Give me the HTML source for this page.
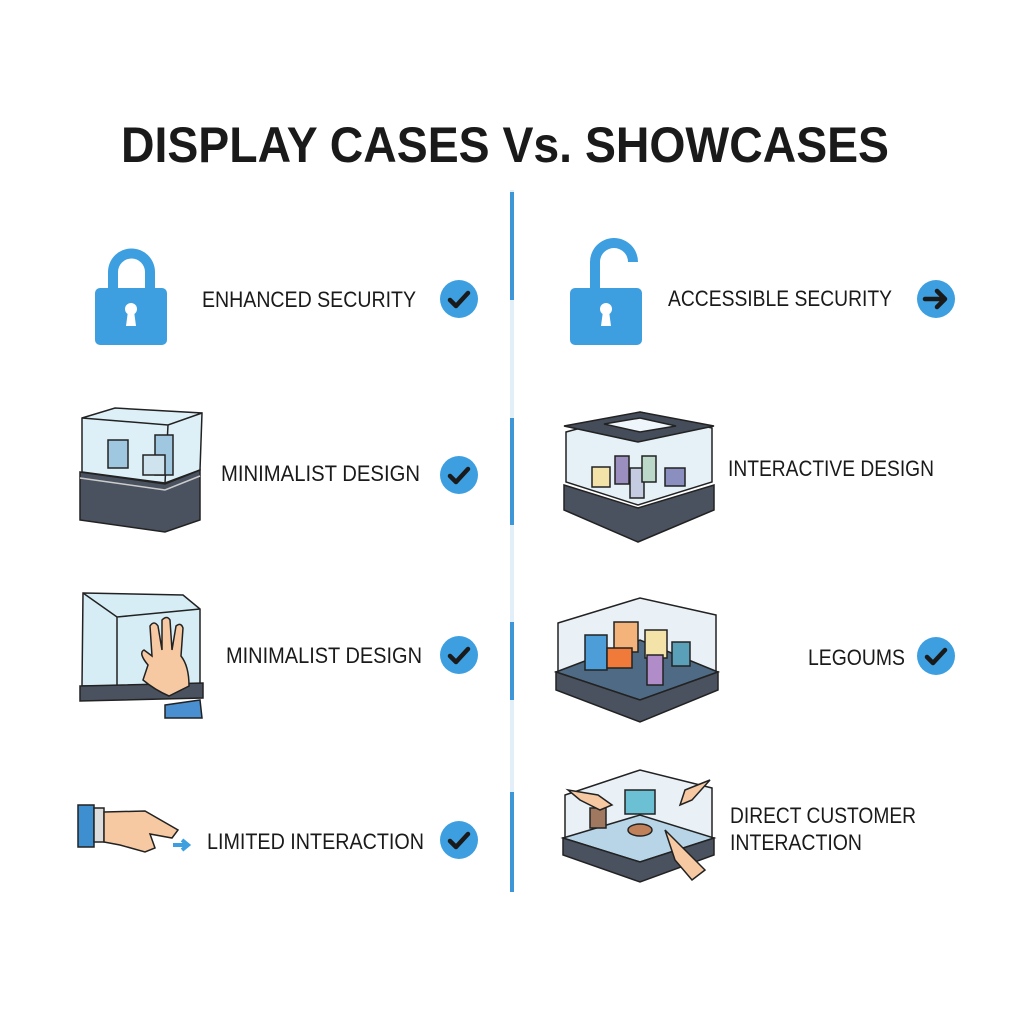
<!DOCTYPE html>
<html><head><meta charset="utf-8"><style>
html,body{margin:0;padding:0;background:#fff;}
svg{display:block;}
text{font-family:"Liberation Sans",sans-serif;fill:#1a1a1a;}
</style></head><body>
<svg width="1024" height="1024" viewBox="0 0 1024 1024" xmlns="http://www.w3.org/2000/svg">
<rect width="1024" height="1024" fill="#fff"/>
<!-- Title -->
<text x="505" y="162" font-size="50" font-weight="bold" text-anchor="middle" textLength="768" lengthAdjust="spacingAndGlyphs" fill="#1b1b1b">DISPLAY CASES Vs. SHOWCASES</text>
<!-- Divider -->
<line x1="512" y1="190" x2="512" y2="892" stroke="#e3eff8" stroke-width="4"/>
<g stroke="#3d97d6" stroke-width="4">
<line x1="512" y1="192" x2="512" y2="300"/>
<line x1="512" y1="418" x2="512" y2="525"/>
<line x1="512" y1="622" x2="512" y2="700"/>
<line x1="512" y1="792" x2="512" y2="892"/>
</g>
<!-- Locks -->
<g fill="#3d9fe0">
<path d="M108 290 V272 a23.5 23.5 0 0 1 47 0 V290 h-10 V272 a13.5 13.5 0 0 0 -27 0 V290z"/>
<rect x="95" y="288" width="72" height="57" rx="5"/>
<path d="M590 290 V262 a24 24 0 0 1 48 0 h-10 a14 14 0 0 0 -28 0 V290z"/>
<rect x="570" y="288" width="72" height="57" rx="5"/>
</g>
<g fill="#fff">
<circle cx="131" cy="309" r="6"/><path d="M128 311 h6 l2 15 h-10z"/>
<circle cx="606" cy="309" r="6"/><path d="M603 311 h6 l2 15 h-10z"/>
</g>
<!-- Labels -->
<g font-size="22">
<text x="202" y="307" textLength="214" lengthAdjust="spacingAndGlyphs">ENHANCED SECURITY</text>
<text x="221" y="481" textLength="199" lengthAdjust="spacingAndGlyphs">MINIMALIST DESIGN</text>
<text x="226" y="663" textLength="196" lengthAdjust="spacingAndGlyphs">MINIMALIST DESIGN</text>
<text x="207" y="849" textLength="217" lengthAdjust="spacingAndGlyphs">LIMITED INTERACTION</text>
<text x="668" y="306" textLength="224" lengthAdjust="spacingAndGlyphs">ACCESSIBLE SECURITY</text>
<text x="728" y="476" textLength="206" lengthAdjust="spacingAndGlyphs">INTERACTIVE DESIGN</text>
<text x="808" y="665" textLength="97" lengthAdjust="spacingAndGlyphs">LEGOUMS</text>
<text x="730" y="823" textLength="186" lengthAdjust="spacingAndGlyphs">DIRECT CUSTOMER</text>
<text x="730" y="850" textLength="132" lengthAdjust="spacingAndGlyphs">INTERACTION</text>
</g>
<!-- Check circles -->
<g fill="#3d9fe0">
<circle cx="459" cy="299" r="19"/><circle cx="459" cy="475" r="19"/>
<circle cx="459" cy="655" r="19"/><circle cx="459" cy="840" r="19"/>
<circle cx="936" cy="299" r="19"/><circle cx="936" cy="656" r="19"/>
</g>
<g fill="none" stroke="#1a1a1a" stroke-width="4.5" stroke-linecap="round" stroke-linejoin="round">
<path d="M450 300 l6 6 l12 -13"/><path d="M450 476 l6 6 l12 -13"/>
<path d="M450 656 l6 6 l12 -13"/><path d="M450 841 l6 6 l12 -13"/>
<path d="M927 657 l6 6 l12 -13"/>
<path d="M925 299 h20 M937 291 l8 8 l-8 8"/>
</g>
<!-- Left case 1 -->
<g stroke="#222" stroke-width="1.5">
<path d="M82 418 L115 408 L202 413 L200 470 L165 483 L82 472z" fill="#d6ecf5" fill-opacity="0.8"/>
<path d="M82 418 L168 425 L202 413 M168 425 L165 483" fill="none"/>
<path d="M80 472 L165 484 L200 470 L200 520 L165 532 L80 520z" fill="#4a5260"/>
<path d="M80 478 L165 490 L200 476" fill="none" stroke="#ccc"/>
<rect x="108" y="440" width="20" height="28" fill="#9fc7e0"/>
<rect x="155" y="435" width="18" height="40" fill="#9fc7e0"/>
<rect x="143" y="455" width="22" height="20" fill="#cfe3ee"/>
</g>
<!-- Left case 2 -->
<g stroke="#222" stroke-width="1.5">
<path d="M83 593 L183 595 L200 609 L200 685 L82 686z" fill="#d3ebf4" fill-opacity="0.9"/>
<path d="M83 593 L117 617 L200 609 M117 617 L117 685" fill="none"/>
<path d="M80 686 L203 683 L203 698 L80 701z" fill="#4a5260"/>
<path d="M148 665 q-10 -12 -4 -15 l8 6 l-2 -30 q4 -6 8 0 l4 24 l0 -30 q5 -5 8 0 l2 30 l4 -24 q5 -4 7 2 l-2 28 q8 10 8 30 l-20 10 q-14 -6 -26 -16z" fill="#f6c9a3"/>
<path d="M165 705 L200 700 L202 718 L165 718z" fill="#4a8fd0"/>
</g>
<!-- Left hand -->
<g stroke="#222" stroke-width="1.5">
<rect x="78" y="805" width="16" height="42" fill="#3d8fd0"/>
<rect x="94" y="808" width="10" height="34" fill="#ddd"/>
<path d="M104 812 L145 811 L178 830 L172 838 L150 834 L155 848 L145 852 L120 845 L104 842z" fill="#f6c9a3"/>
</g>
<path d="M173 845 h14 M182 840 l6 5 l-6 5" stroke="#3d9fe0" stroke-width="4" fill="none"/>
<!-- Right case 1 -->
<g stroke="#222" stroke-width="1.5">
<path d="M566 432 L640 412 L712 428 L712 482 L638 505 L566 482z" fill="#e6f1f7"/>
<path d="M564 426 L640 412 L714 426 L638 442z" fill="#454d5a"/>
<path d="M604 424 L640 418 L676 426 L640 432z" fill="#eef6fb"/>
<path d="M564 485 L638 508 L714 485 L714 510 L638 542 L564 510z" fill="#4a5260"/>
<rect x="592" y="467" width="18" height="20" fill="#f3e3a8"/>
<rect x="615" y="456" width="14" height="28" fill="#9a8fbf"/>
<rect x="630" y="468" width="14" height="30" fill="#c5cbe0"/>
<rect x="642" y="456" width="14" height="26" fill="#bcd8c8"/>
<rect x="665" y="468" width="20" height="18" fill="#8b8fbf"/>
</g>
<!-- Right case 2 -->
<g stroke="#222" stroke-width="1.5">
<path d="M558 623 L640 598 L716 615 L716 672 L640 700 L558 672z" fill="#e9f1f6"/>
<path d="M556 672 L640 640 L718 672 L640 700z" fill="#4e6a85"/>
<path d="M556 672 L640 700 L718 672 L718 690 L640 722 L556 690z" fill="#4a5260"/>
<rect x="585" y="635" width="22" height="35" fill="#4d9ed8"/>
<rect x="614" y="622" width="24" height="30" fill="#f3b37a"/>
<rect x="607" y="648" width="25" height="20" fill="#f07a3a"/>
<rect x="645" y="630" width="22" height="28" fill="#f3e3a8"/>
<rect x="647" y="655" width="16" height="30" fill="#b08dc8"/>
<rect x="672" y="642" width="18" height="24" fill="#5aa0b8"/>
</g>
<!-- Right case 3 -->
<g stroke="#222" stroke-width="1.5">
<path d="M565 795 L640 770 L712 788 L712 840 L640 862 L565 840z" fill="#e9f1f6"/>
<path d="M563 838 L640 815 L714 838 L640 862z" fill="#b8d5e8"/>
<path d="M563 838 L640 862 L714 838 L714 855 L640 882 L563 855z" fill="#4a5260"/>
<rect x="625" y="790" width="30" height="24" fill="#6cc0d4"/>
<rect x="590" y="808" width="16" height="20" fill="#a07860"/>
<ellipse cx="640" cy="830" rx="12" ry="6" fill="#c0805a"/>
<path d="M568 790 L598 795 L612 805 L600 810 L580 800z" fill="#f6c9a3"/>
<path d="M710 780 L685 790 L680 805 L692 800z" fill="#f6c9a3"/>
<path d="M665 830 L690 855 L705 870 L692 880 L675 860z" fill="#f6c9a3"/>
</g>
</svg>
</body></html>
